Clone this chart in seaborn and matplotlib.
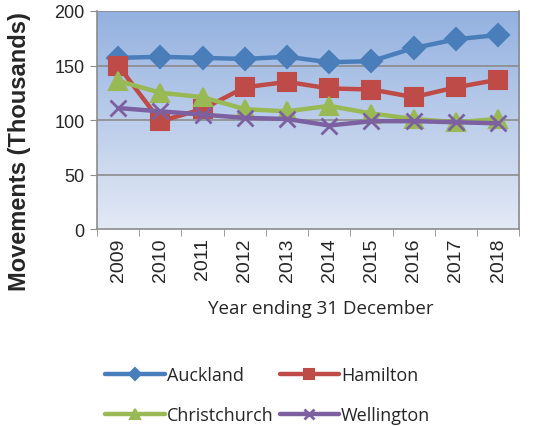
import numpy as np
import pandas as pd
import matplotlib.pyplot as plt
import seaborn as sns
from matplotlib.colors import LinearSegmentedColormap

years = ["2009", "2010", "2011", "2012", "2013", "2014", "2015", "2016", "2017", "2018"]
auckland = [157, 158, 157, 156, 158, 153, 154, 166, 174, 178]
hamilton = [150, 99, 110, 130, 135, 129, 128, 121, 130, 137]
christchurch = [136, 125, 121, 110, 108, 113, 106, 101, 98, 101]
wellington = [111, 108, 105, 102, 101, 95, 99, 99, 98, 97]
cities = ["Auckland", "Hamilton", "Christchurch", "Wellington"]

df = pd.DataFrame({"Year": years, "Auckland": auckland, "Hamilton": hamilton,
                   "Christchurch": christchurch, "Wellington": wellington})
long = df.melt(id_vars="Year", var_name="City", value_name="Movements")
long["x"] = long["Year"].map({y: i for i, y in enumerate(years)})

sns.set_style("white")
plt.rcParams["font.family"] = ["Open Sans", "DejaVu Sans"]

palette = {"Auckland": "#4a7ebb", "Hamilton": "#be4b48",
           "Christchurch": "#98b954", "Wellington": "#7d60a0"}
markers = {"Auckland": "D", "Hamilton": "s", "Christchurch": "^", "Wellington": "x"}
msize = {"Auckland": 11, "Hamilton": 13, "Christchurch": 13, "Wellington": 12}

fig = plt.figure(figsize=(5.42, 4.27), dpi=100)
ax = fig.add_axes([0.179, 0.461, 0.779, 0.511])

# gradient background
cmap = LinearSegmentedColormap.from_list("bg", ["#e3e9f5", "#93b1e0"])
grad = np.linspace(0, 1, 256).reshape(-1, 1)
ax.imshow(grad, aspect="auto", cmap=cmap, origin="lower",
          extent=[-0.5, 9.5, 0, 200], zorder=0)

for y in [50, 100, 150, 200]:
    ax.axhline(y, color="#8c8c8c", lw=1.2, zorder=1)

for c in cities:
    sub = long[long["City"] == c]
    sns.lineplot(data=sub, x="x", y="Movements", ax=ax, color=palette[c],
                 marker=markers[c], markersize=msize[c], lw=3.2,
                 markeredgecolor=palette[c], markeredgewidth=1.5 if c != "Wellington" else 2,
                 label=c, legend=False, zorder=3)

ax.set_xlim(-0.5, 9.5)
ax.set_ylim(0, 200)
ax.set_yticks([0, 50, 100, 150, 200])
ax.set_yticklabels([str(v) for v in [0, 50, 100, 150, 200]], fontsize=13,
                   family=["Liberation Sans", "DejaVu Sans"])
ax.tick_params(axis="y", length=5, color="#8c8c8c", left=True, pad=4)
ax.set_xticks(range(len(years)))
ax.set_xticklabels(years, rotation=90, fontsize=14, family=["Liberation Sans Narrow", "Liberation Sans"])
ax.tick_params(axis="x", which="major", length=0, pad=6)
ax.set_xticks(np.arange(-0.5, 10, 1), minor=True)
ax.tick_params(axis="x", which="minor", length=5, color="#8c8c8c", bottom=True)
for s in ax.spines.values():
    s.set_color("#8c8c8c")
    s.set_linewidth(1.2)
ax.spines["top"].set_visible(False)

ax.set_ylabel("")
fig.text(0.036, 0.646, "Movements (Thousands)", rotation=90, ha="center", va="center",
         fontsize=17, fontweight="bold", family=["Liberation Sans", "DejaVu Sans"])
ax.set_xlabel("Year ending 31 December", fontsize=13.5)
ax.xaxis.set_label_coords(0.53, -0.32)

handles, labels = ax.get_legend_handles_labels()
order = [0, 2, 1, 3]
fig.legend([handles[i] for i in order], [labels[i] for i in order], ncol=2,
           loc="upper left", bbox_to_anchor=(0.164, 0.178),
           frameon=False, fontsize=13, handlelength=3.3, columnspacing=0.35,
           handletextpad=0.1, labelspacing=1.2, markerscale=0.6)

fig.savefig("out.png", dpi=100)
